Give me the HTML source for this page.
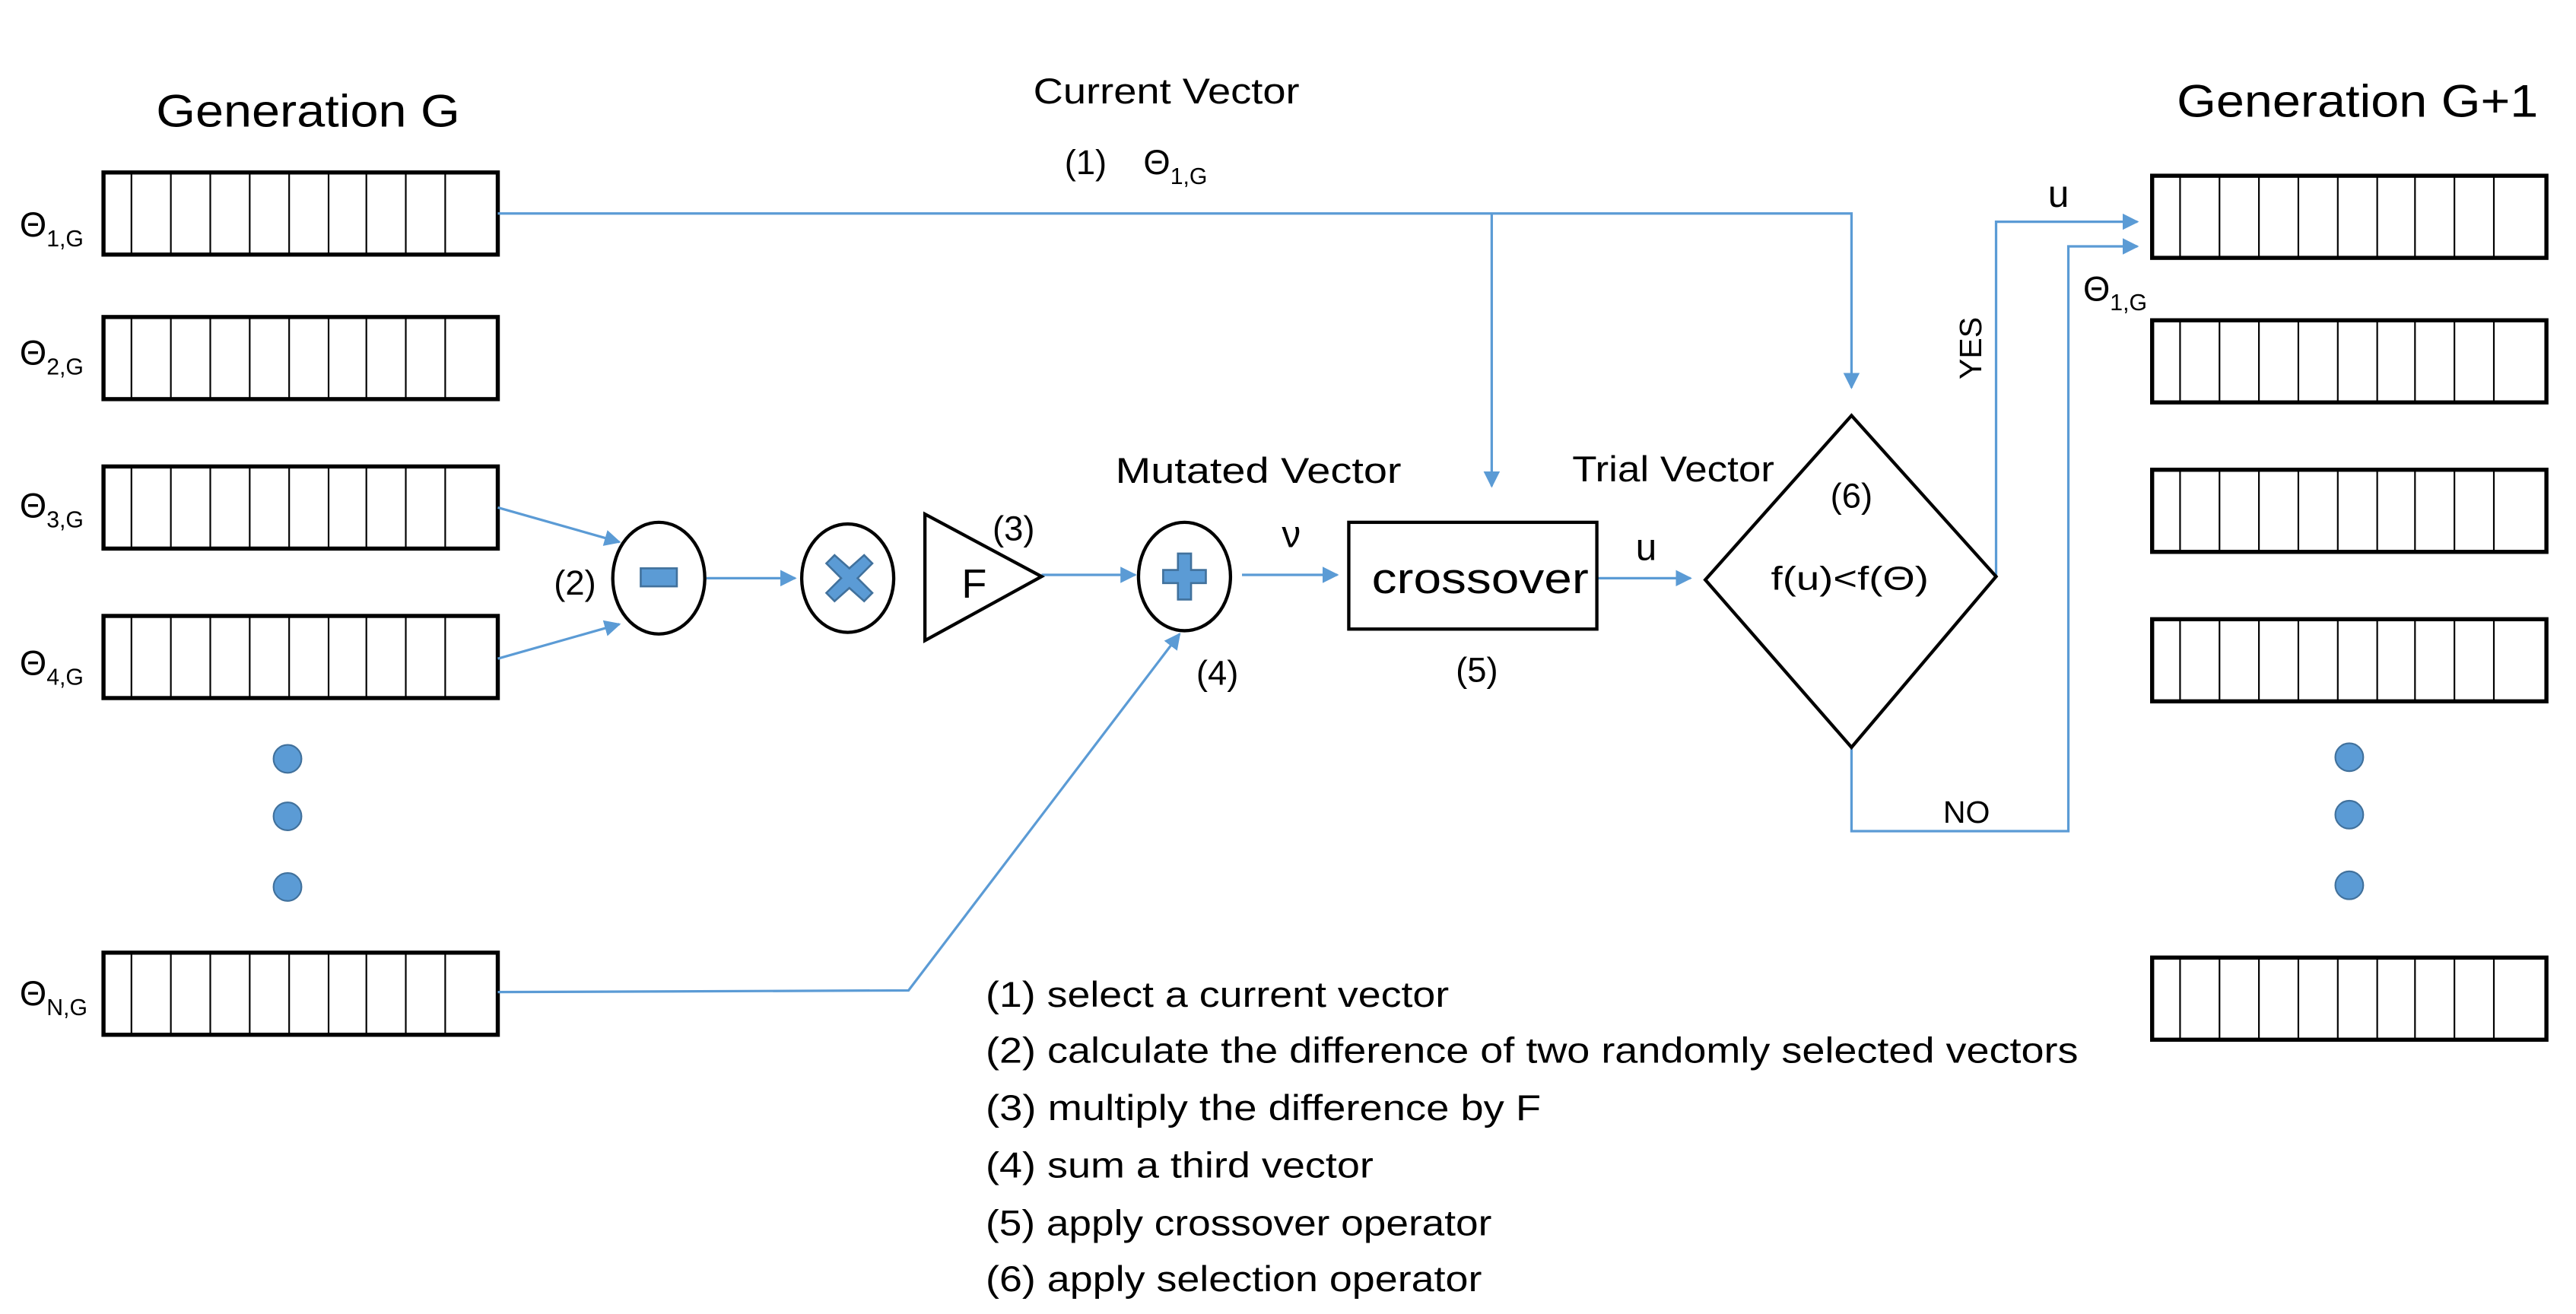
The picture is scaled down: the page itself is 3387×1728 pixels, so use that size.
<!DOCTYPE html>
<html><head><meta charset="utf-8"><style>
html,body{margin:0;padding:0;background:#fff;}
svg{display:block;}
text{font-family:"Liberation Sans",sans-serif;fill:#000;}
</style></head><body>
<svg width="3387" height="1728" viewBox="0 0 1568 800" preserveAspectRatio="none" xmlns="http://www.w3.org/2000/svg">
<defs>
<marker id="a" markerWidth="10" markerHeight="10" refX="9" refY="5" orient="auto" markerUnits="userSpaceOnUse">
<path d="M0,0 L10,5 L0,10 z" fill="#5b9bd5"/></marker>
<g id="arr">
<rect x="0" y="0" width="240" height="50" fill="#fff" stroke="#000" stroke-width="2.5"/>
<path d="M17,0V50M41,0V50M65,0V50M89,0V50M113,0V50M137,0V50M160,0V50M184,0V50M208,0V50" stroke="#000" stroke-width="1"/>
</g>
</defs>
<rect width="1568" height="800" fill="#fff"/>
<text x="95" y="77" font-size="28" textLength="185" lengthAdjust="spacingAndGlyphs">Generation G</text>
<text x="1325" y="71" font-size="28" textLength="220" lengthAdjust="spacingAndGlyphs">Generation G+1</text>
<text x="629" y="63" font-size="22" textLength="162" lengthAdjust="spacingAndGlyphs">Current Vector</text>
<text x="648" y="106" font-size="21">(1)</text>
<text x="696" y="106" font-size="21">Θ<tspan font-size="14" dy="6">1,G</tspan></text>

<use href="#arr" x="63" y="105"/>
<use href="#arr" x="63" y="193"/>
<use href="#arr" x="63" y="284"/>
<use href="#arr" x="63" y="375"/>
<use href="#arr" x="63" y="580"/>
<use href="#arr" x="1310" y="107"/>
<use href="#arr" x="1310" y="195"/>
<use href="#arr" x="1310" y="286"/>
<use href="#arr" x="1310" y="377"/>
<use href="#arr" x="1310" y="583"/>

<g font-size="21">
<text x="12" y="144">Θ<tspan font-size="14" dy="6">1,G</tspan></text>
<text x="12" y="222">Θ<tspan font-size="14" dy="6">2,G</tspan></text>
<text x="12" y="315">Θ<tspan font-size="14" dy="6">3,G</tspan></text>
<text x="12" y="411">Θ<tspan font-size="14" dy="6">4,G</tspan></text>
<text x="12" y="612">Θ<tspan font-size="14" dy="6">N,G</tspan></text>
<text x="1268" y="183">Θ<tspan font-size="14" dy="6">1,G</tspan></text>
</g>

<g fill="#5b9bd5" stroke="#41719c" stroke-width="1">
<circle cx="175" cy="462" r="8.5"/><circle cx="175" cy="497" r="8.5"/><circle cx="175" cy="540" r="8.5"/>
<circle cx="1430" cy="461" r="8.5"/><circle cx="1430" cy="496" r="8.5"/><circle cx="1430" cy="539" r="8.5"/>
</g>

<g stroke="#5b9bd5" stroke-width="1.5" fill="none">
<path d="M303,130 H1127 V236" marker-end="url(#a)"/>
<path d="M908,130 V296" marker-end="url(#a)"/>
<path d="M303,309 L377,330" marker-end="url(#a)"/>
<path d="M303,401 L377,380" marker-end="url(#a)"/>
<path d="M430,352 H484" marker-end="url(#a)"/>
<path d="M634,350 H691" marker-end="url(#a)"/>
<path d="M303,604 L553,603 L718,386" marker-end="url(#a)"/>
<path d="M756,350 H814" marker-end="url(#a)"/>
<path d="M972,352 H1029" marker-end="url(#a)"/>
<path d="M1215,351 V135 H1301" marker-end="url(#a)"/>
<path d="M1127,455 V506 H1259 V150 H1301" marker-end="url(#a)"/>
</g>

<g stroke="#000" stroke-width="2" fill="#fff">
<ellipse cx="401" cy="352" rx="28" ry="34"/>
<ellipse cx="516" cy="352" rx="28" ry="33"/>
<path d="M563,313 L563,390 L634,351 z"/>
<ellipse cx="721" cy="351" rx="28" ry="33"/>
<rect x="821" y="318" width="151" height="65"/>
<path d="M1127,253 L1215,351 L1127,455 L1038,353 z"/>
</g>
<g fill="#5b9bd5" stroke="#41719c" stroke-width="1.2">
<rect x="390" y="346" width="22" height="11"/>
<path d="M508,338 L517,346 L526,338 L531,343 L522,352 L531,361 L526,366 L517,358 L508,366 L503,361 L512,352 L503,343 z"/>
<path d="M717,337 H725 V347 H734 V355 H725 V365 H717 V355 H708 V347 H717 z"/>
</g>

<text x="350" y="362" font-size="21" text-anchor="middle">(2)</text>
<text x="593" y="364" font-size="25" text-anchor="middle">F</text>
<text x="617" y="329" font-size="21" text-anchor="middle">(3)</text>
<text x="741" y="417" font-size="21" text-anchor="middle">(4)</text>
<text x="679" y="294" font-size="22" textLength="174" lengthAdjust="spacingAndGlyphs">Mutated Vector</text>
<text x="786" y="333" font-size="23" text-anchor="middle">ν</text>
<text x="835" y="361" font-size="26" textLength="132" lengthAdjust="spacingAndGlyphs">crossover</text>
<text x="899" y="415" font-size="21" text-anchor="middle">(5)</text>
<text x="1002" y="341" font-size="23" text-anchor="middle">u</text>
<text x="957" y="293" font-size="22" textLength="123" lengthAdjust="spacingAndGlyphs">Trial Vector</text>
<text x="1127" y="309" font-size="21" text-anchor="middle">(6)</text>
<text x="1078" y="359" font-size="20" textLength="96" lengthAdjust="spacingAndGlyphs">f(u)&lt;f(Θ)</text>
<text x="1253" y="126" font-size="23" text-anchor="middle">u</text>
<text x="0" y="0" font-size="19" text-anchor="middle" transform="translate(1206,212) rotate(-90)">YES</text>
<text x="1197" y="501" font-size="19" text-anchor="middle">NO</text>

<g font-size="22">
<text x="600" y="613" textLength="282" lengthAdjust="spacingAndGlyphs">(1) select a current vector</text>
<text x="600" y="647" textLength="665" lengthAdjust="spacingAndGlyphs">(2) calculate the difference of two randomly selected vectors</text>
<text x="600" y="682" textLength="338" lengthAdjust="spacingAndGlyphs">(3) multiply the difference by F</text>
<text x="600" y="717" textLength="236" lengthAdjust="spacingAndGlyphs">(4) sum a third vector</text>
<text x="600" y="752" textLength="308" lengthAdjust="spacingAndGlyphs">(5) apply crossover operator</text>
<text x="600" y="786" textLength="302" lengthAdjust="spacingAndGlyphs">(6) apply selection operator</text>
</g>
</svg>
</body></html>
